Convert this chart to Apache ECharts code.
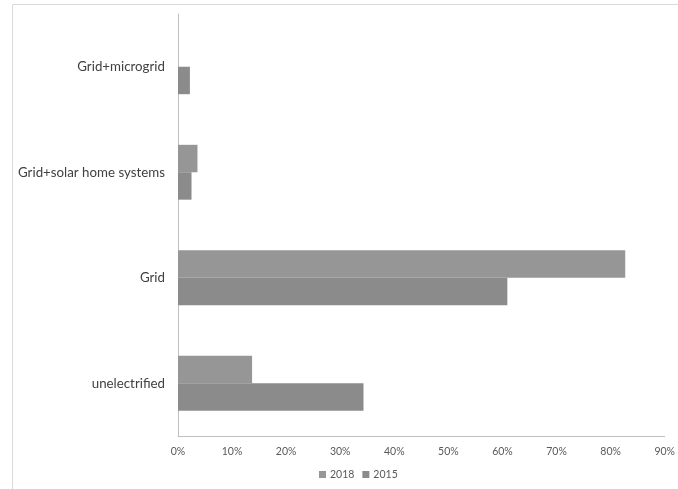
<!DOCTYPE html>
<html>
<head>
<meta charset="utf-8">
<script src="https://cdn.jsdelivr.net/npm/echarts@6/dist/echarts.min.js"></script>
<style>
  html, body { margin: 0; padding: 0; background: #ffffff; }
  #chart { width: 678px; height: 489px; }
</style>
</head>
<body>
<div id="chart"></div>
<script>
// Electricity access categories, bottom to top
const categories = ['unelectrified', 'Grid', 'Grid+solar home systems', 'Grid+microgrid'];
// Share of households (%)
const values2018 = [13.7, 82.7, 3.6, 0];
const values2015 = [34.3, 60.9, 2.5, 2.2];
const xTicks = { min: 0, max: 90, interval: 10 };

const chart = echarts.init(document.getElementById('chart'), null, { renderer: 'canvas' });

chart.setOption({
  animation: false,
  backgroundColor: '#ffffff',
  graphic: [{
    type: 'rect',
    left: 10, top: 2,
    shape: { width: 700, height: 520 },
    style: { fill: 'none', stroke: '#d9d9d9', lineWidth: 1 },
    silent: true,
    z: -10
  }],
  grid: { left: 178, right: 12, top: 14, bottom: 53, containLabel: false },
  legend: {
    data: ['2018', '2015'],
    bottom: 4,
    left: 314,
    itemWidth: 7,
    itemHeight: 7,
    itemGap: 8,
    icon: 'rect',
    textStyle: { color: '#595959', fontSize: 10.5, fontFamily: 'Lato', padding: [0, 0, 0, -1] }
  },
  xAxis: {
    type: 'value',
    min: xTicks.min,
    max: xTicks.max,
    interval: xTicks.interval,
    axisLine: { show: true, lineStyle: { color: '#bfbfbf', width: 1 } },
    axisTick: { show: false },
    splitLine: { show: false },
    axisLabel: {
      formatter: '{value}%',
      color: '#595959',
      fontSize: 10.5,
      fontFamily: 'Lato',
      margin: 10
    }
  },
  yAxis: {
    type: 'category',
    data: categories,
    axisLine: { show: true, lineStyle: { color: '#bfbfbf', width: 1 } },
    axisTick: { show: false },
    axisLabel: {
      color: '#404040',
      fontSize: 13.3,
      fontFamily: 'Lato',
      margin: 13
    }
  },
  series: [
    {
      name: '2018',
      type: 'bar',
      data: values2018,
      barGap: '0%',
      barCategoryGap: '48%',
      itemStyle: { color: '#969696' }
    },
    {
      name: '2015',
      type: 'bar',
      data: values2015,
      barGap: '0%',
      barCategoryGap: '48%',
      itemStyle: { color: '#8b8b8b' }
    }
  ]
});
</script>
</body>
</html>
